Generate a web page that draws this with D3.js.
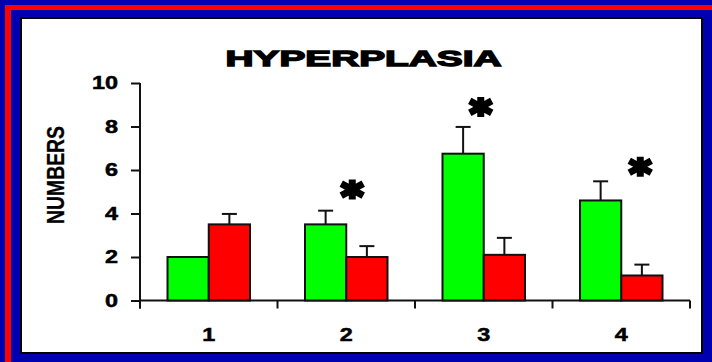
<!DOCTYPE html>
<html>
<head>
<meta charset="utf-8">
<script src="https://cdn.jsdelivr.net/npm/d3@7"></script>
<style>
  html, body { margin: 0; padding: 0; background: #0000b0; }
  svg { display: block; }
</style>
</head>
<body>
<svg id="chart" width="712" height="362"></svg>
<script>
// Hyperplasia counts per group: two series with standard-error bars
const categories = ["1", "2", "3", "4"];
const greenValues = [2.0, 3.5, 6.75, 4.6];
const greenErrors = [0.0, 0.63, 1.23, 0.88];
const redValues = [3.5, 2.0, 2.1, 1.15];
const redErrors = [0.48, 0.5, 0.78, 0.5];
const yTicks = [0, 2, 4, 6, 8, 10];
// significance markers: group and height (in axis units)
const starGroups = ["2", "3", "4"];
const starLevels = [5.1, 8.9, 6.15];

const titleText = "HYPERPLASIA";
const yTitle = "NUMBERS";

const svg = d3.select("#chart");
const W = 712, H = 362;

// frame: blue ground, red rule lines, white panel
svg.append("rect").attr("width", W).attr("height", H).attr("fill", "#0000b0");
svg.append("rect").attr("x", 5).attr("y", 5).attr("width", W - 5).attr("height", 5).attr("fill", "#ff0000");
svg.append("rect").attr("x", 5).attr("y", 5).attr("width", 6).attr("height", H - 5).attr("fill", "#ff0000");
svg.append("rect").attr("x", 21).attr("y", 18).attr("width", 681).attr("height", 335)
  .attr("fill", "#ffffff").attr("stroke", "#000").attr("stroke-width", 2);

const plotLeft = 140, plotRight = 690, plotTop = 83, plotBase = 300.5;

const y = d3.scaleLinear().domain([0, 10]).range([plotBase, plotTop]);
const x0 = d3.scaleBand().domain(categories).range([plotLeft, plotRight])
  .paddingInner(0.4).paddingOuter(0.2);
const x1 = d3.scaleBand().domain(["g", "r"]).range([0, x0.bandwidth()]);

const font = "'Liberation Sans', Arial, sans-serif";
const widen = 1.3; // broad, heavy lettering for the numerals

// title
svg.append("text")
  .attr("x", 363.5).attr("y", 66)
  .attr("text-anchor", "middle")
  .attr("font-family", font).attr("font-weight", "bold").attr("font-size", 22)
  .attr("textLength", 276).attr("lengthAdjust", "spacingAndGlyphs")
  .attr("stroke", "#000").attr("stroke-width", 1.3)
  .text(titleText);

// y axis title
svg.append("text")
  .attr("transform", "translate(64,175) rotate(-90)")
  .attr("text-anchor", "middle")
  .attr("font-family", font).attr("font-weight", "bold").attr("font-size", 23)
  .attr("textLength", 98).attr("lengthAdjust", "spacingAndGlyphs")
  .attr("stroke", "#000").attr("stroke-width", 0.3)
  .text(yTitle);

// y axis
const yAxis = d3.axisLeft(y).tickValues(yTicks).tickSize(9).tickPadding(13).tickSizeOuter(0);
const gy = svg.append("g").attr("transform", `translate(${plotLeft},0)`).call(yAxis);
gy.select(".domain").remove();
gy.selectAll(".tick line").attr("stroke", "#111").attr("stroke-width", 2);
gy.selectAll(".tick text")
  .attr("x", -22 / widen)
  .attr("transform", `scale(${widen},1)`)
  .attr("font-family", font).attr("font-weight", "bold").attr("font-size", 18)
  .attr("stroke", "#000").attr("stroke-width", 0.5)
  .attr("fill", "#000");
svg.append("line").attr("x1", plotLeft).attr("x2", plotLeft).attr("y1", plotTop).attr("y2", plotBase + 8)
  .attr("stroke", "#111").attr("stroke-width", 2);

// x axis with ticks on category boundaries
svg.append("line").attr("x1", plotLeft).attr("x2", plotRight).attr("y1", plotBase).attr("y2", plotBase)
  .attr("stroke", "#111").attr("stroke-width", 2);
const step = x0.step();
const bounds = d3.range(categories.length + 1).map(i => plotLeft + i * step);
svg.selectAll(".xtick").data(bounds).join("line")
  .attr("x1", d => d).attr("x2", d => d).attr("y1", plotBase).attr("y2", plotBase + 8)
  .attr("stroke", "#111").attr("stroke-width", 2);
svg.selectAll(".xlab").data(categories).join("text")
  .attr("transform", d => `translate(${x0(d) + x0.bandwidth() / 2},341) scale(${widen},1)`)
  .attr("text-anchor", "middle")
  .attr("font-family", font).attr("font-weight", "bold").attr("font-size", 18)
  .attr("stroke", "#000").attr("stroke-width", 0.5)
  .text(d => d);

// bars with error bars
const rows = categories.map((c, i) => ({ c, items: [
  { k: "g", v: greenValues[i], e: greenErrors[i], fill: "#00ff00" },
  { k: "r", v: redValues[i], e: redErrors[i], fill: "#ff0000" }
]}));

const groups = svg.selectAll(".grp").data(rows).join("g")
  .attr("transform", d => `translate(${x0(d.c)},0)`);

const capHalf = 7.5;
groups.each(function(d) {
  const g = d3.select(this);
  d.items.forEach(it => {
    const cx = x1(it.k) + x1.bandwidth() / 2;
    if (it.e > 0) {
      g.append("line").attr("x1", cx).attr("x2", cx).attr("y1", y(it.v)).attr("y2", y(it.v + it.e))
        .attr("stroke", "#111").attr("stroke-width", 2);
      g.append("line").attr("x1", cx - capHalf).attr("x2", cx + capHalf)
        .attr("y1", y(it.v + it.e)).attr("y2", y(it.v + it.e))
        .attr("stroke", "#111").attr("stroke-width", 2);
    }
    g.append("rect")
      .attr("x", x1(it.k)).attr("y", y(it.v))
      .attr("width", x1.bandwidth()).attr("height", plotBase - y(it.v))
      .attr("fill", it.fill).attr("stroke", "#111").attr("stroke-width", 2);
  });
});

// asterisks
const starNudge = [6, -3, 19];
const arm = 10, diagX = 11, diagY = 6;
const starPath = `M0,${-arm}L0,${arm}M${-diagX},${-diagY}L${diagX},${diagY}M${-diagX},${diagY}L${diagX},${-diagY}`;
svg.selectAll(".star").data(starGroups.map((g, i) => ({ g, v: starLevels[i], n: starNudge[i] })))
  .join("path")
  .attr("transform", d => `translate(${x0(d.g) + x0.bandwidth() / 2 + d.n},${y(d.v)})`)
  .attr("d", starPath)
  .attr("stroke", "#000").attr("stroke-width", 7).attr("fill", "none");
</script>
</body>
</html>
